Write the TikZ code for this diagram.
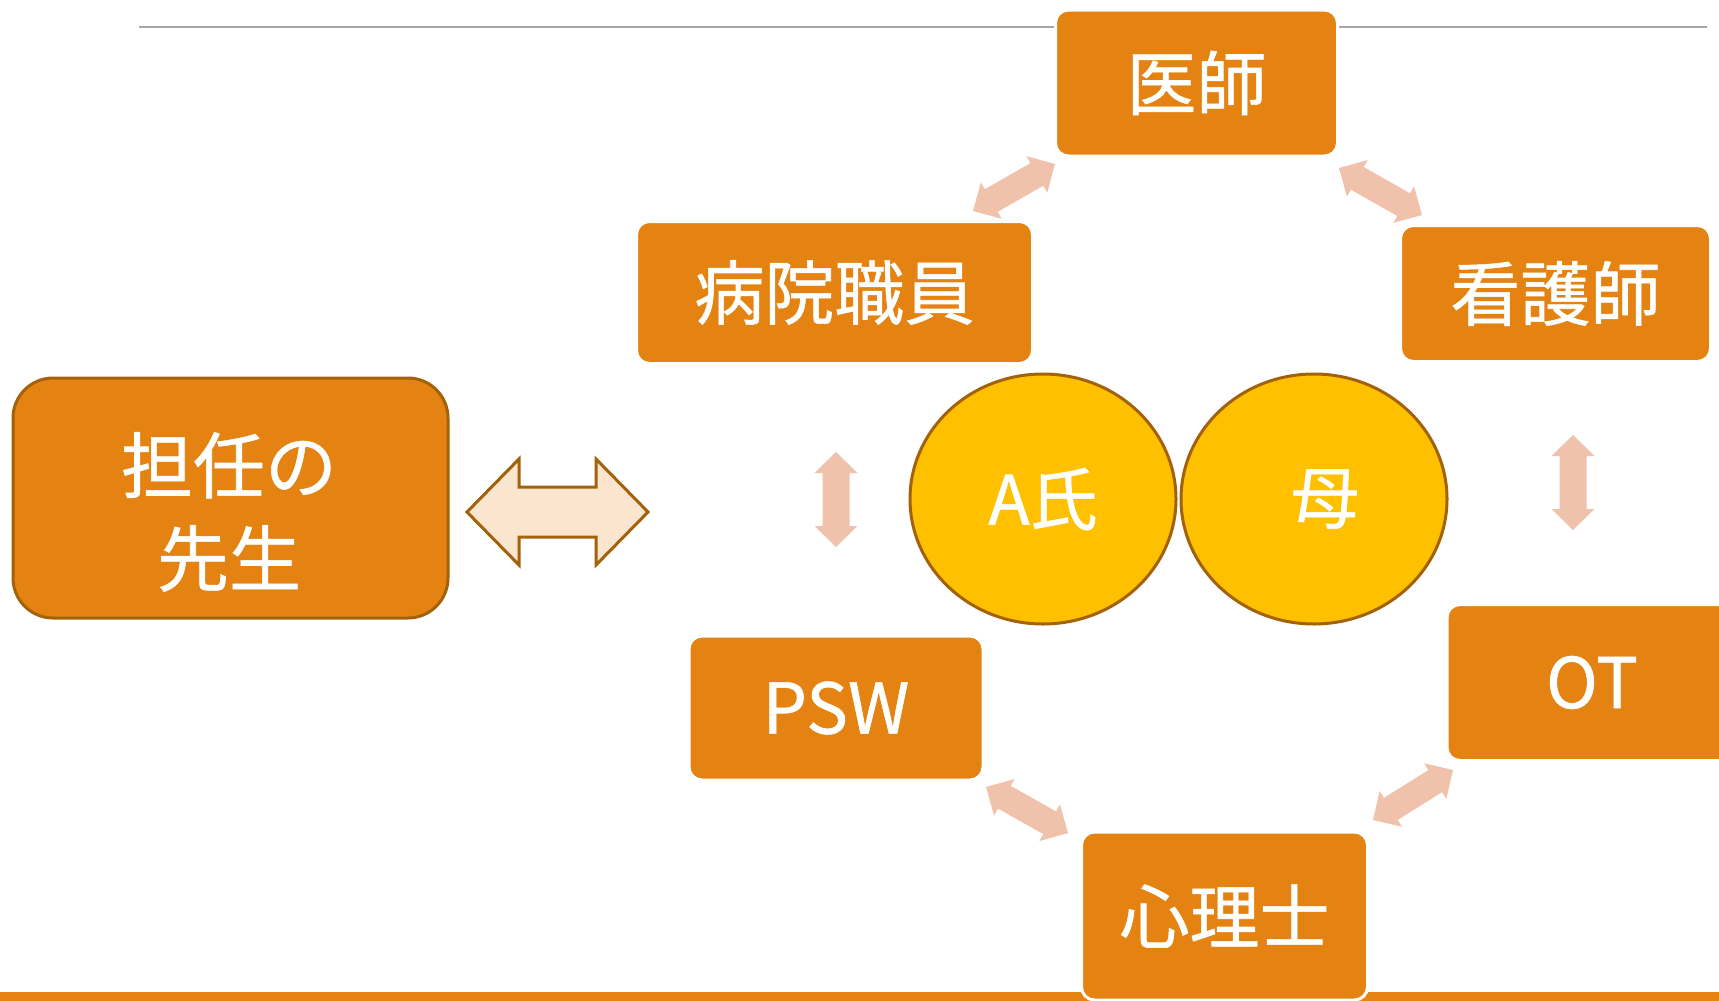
\documentclass[tikz,border=0pt]{standalone}
\usepackage{fontspec}
\setmainfont{Noto Sans CJK JP}[FakeBold=0.8]
\usetikzlibrary{calc,shapes.geometric}
\definecolor{boxorange}{RGB}{228,131,18}
\definecolor{darkbrown}{RGB}{163,98,10}
\definecolor{circyellow}{RGB}{255,192,0}
\definecolor{salmonfill}{RGB}{240,193,171}
\definecolor{paleorange}{RGB}{251,229,206}
\definecolor{linegray}{RGB}{166,166,166}
% style, A, B, head length, head half width, shaft half width
\newcommand\blockarrow[6]{%
\path[#1] (#2) -- ($(#2)!#4!(#3)!#5!90:(#3)$) -- ($(#2)!#4!(#3)!#6!90:(#3)$)
 -- ($(#3)!#4!(#2)!#6!-90:(#2)$) -- ($(#3)!#4!(#2)!#5!-90:(#2)$) -- (#3)
 -- ($(#3)!#4!(#2)!#5!90:(#2)$) -- ($(#3)!#4!(#2)!#6!90:(#2)$)
 -- ($(#2)!#4!(#3)!#6!-90:(#3)$) -- ($(#2)!#4!(#3)!#5!-90:(#3)$) -- cycle;}
\tikzset{
 staff/.style={rectangle, rounded corners=6.5pt, fill=boxorange, draw=white, line width=1.5pt,
   text=white, font=\fontsize{35}{42}\selectfont, inner sep=0pt},
 teacher/.style={rectangle, rounded corners=20pt, fill=boxorange, draw=darkbrown, line width=1.5pt,
   inner sep=0pt},
 teachertext/.style={text=white, font=\fontsize{36}{46.5}\selectfont, align=center, inner sep=0pt},
 person/.style={ellipse, fill=circyellow, draw=darkbrown, line width=1.5pt, text=white,
   font=\fontsize{34}{40}\selectfont, inner sep=0pt},
 linkarrow/.style={fill=salmonfill},
 bigarrow/.style={fill=paleorange, draw=darkbrown, line width=1.5pt, line join=miter},
}
\begin{document}
\begin{tikzpicture}[x=0.5pt,y=-0.5pt]
\useasboundingbox (0,0) rectangle (1719,1001);
% decorative lines
\draw[linegray, line width=1pt] (139,27) -- (1707,27);
\fill[boxorange] (0,992) rectangle (1719,1001);

% staff boxes
\node[staff, minimum width=141pt, minimum height=73pt] (doctor) at (1196.5,83) {医師};
\node[staff, minimum width=198pt, minimum height=71pt] (hospital) at (834.5,292.5) {病院職員};
\node[staff, minimum width=155pt, minimum height=68pt] (nurse) at (1555.5,293.5) {看護師};
\node[staff, minimum width=145pt, minimum height=78pt] (ot) at (1592,682.5) {OT};
\node[staff, minimum width=147pt, minimum height=72pt] (psw) at (836,708) {PSW};
\node[staff, minimum width=143pt, minimum height=84pt] (psych) at (1224.5,916) {心理士};

% teacher
\node[teacher, minimum width=217.5pt, minimum height=120pt] (teacher) at (230.5,498) {};
\node[teachertext] (teacherlabel) at (229,512) {担任の\\先生};

% people
\node[person, minimum width=133pt, minimum height=125pt] (a) at (1043,499) {A氏};
\node[person, minimum width=133pt, minimum height=125pt] (mother) at (1314,499) {\hspace{11pt}母};

% arrow end points
\coordinate (d1) at (467,512);
\coordinate (d2) at (648,512);
\coordinate (v1a) at (836,452);
\coordinate (v1b) at (836,547);
\coordinate (v2a) at (1573,435);
\coordinate (v2b) at (1573,530);
\coordinate (hd1) at (973,211);
\coordinate (hd2) at (1055,164);
\coordinate (dn1) at (1339,168);
\coordinate (dn2) at (1422,215);
\coordinate (pp1) at (986,787);
\coordinate (pp2) at (1068,833);
\coordinate (po1) at (1373,820);
\coordinate (po2) at (1453,770);

\blockarrow{bigarrow}{d1}{d2}{26pt}{26.5pt}{12.5pt}
\blockarrow{linkarrow}{v1a}{v1b}{10.5pt}{10.75pt}{6.75pt}
\blockarrow{linkarrow}{v2a}{v2b}{10.5pt}{10.75pt}{6.75pt}
\blockarrow{linkarrow}{hd1}{hd2}{10.5pt}{10.5pt}{6.5pt}
\blockarrow{linkarrow}{dn1}{dn2}{10.5pt}{10.5pt}{6.5pt}
\blockarrow{linkarrow}{pp1}{pp2}{10.5pt}{10.5pt}{6.5pt}
\blockarrow{linkarrow}{po1}{po2}{10.5pt}{10.5pt}{6.5pt}
\end{tikzpicture}
\end{document}
